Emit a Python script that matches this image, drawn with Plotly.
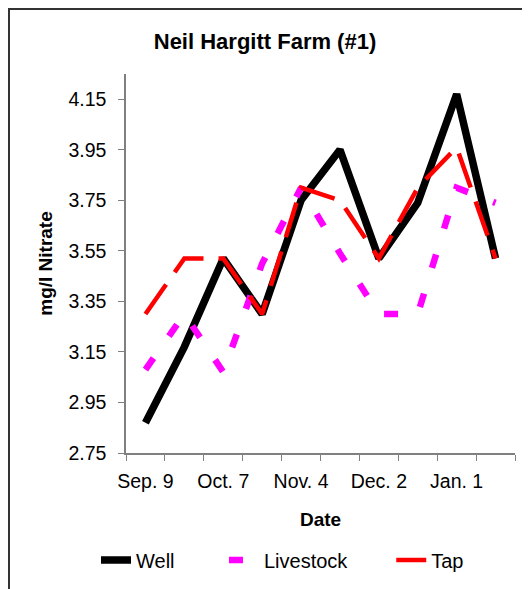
import plotly.graph_objects as go

# ---- data ----
dates = ["Sep. 9", "Sep. 23", "Oct. 7", "Oct. 21", "Nov. 4",
         "Nov. 18", "Dec. 2", "Dec. 16", "Jan. 1", "Jan. 15"]
well = [2.87, 3.17, 3.52, 3.30, 3.75, 3.95, 3.52, 3.74, 4.17, 3.52]
livestock = [3.08, 3.30, 3.07, 3.50, 3.80, 3.54, 3.30, 3.30, 3.80, 3.74]
tap = [3.30, 3.52, 3.52, 3.30, 3.80, 3.75, 3.52, 3.80, 3.96, 3.52]
y_ticks = [2.75, 2.95, 3.15, 3.35, 3.55, 3.75, 3.95, 4.15]
x_labels = [d if i % 2 == 0 else "" for i, d in enumerate(dates)]
series_names = ["Well", "Livestock", "Tap"]

FONT = "Arial, 'Liberation Sans', sans-serif"
# the page body adds an 8px offset, so the figure is 8px smaller
W, H = 522, 581
L, R, T, B = 118, 15, 66, 136
pw, ph = W - L - R, H - T - B
NB = "\u00a0"

fig = go.Figure()
fig.add_trace(go.Scatter(x=dates, y=well, name=series_names[0] + NB * 8, mode="lines",
                         line=dict(color="black", width=7.5)))
fig.add_trace(go.Scatter(x=dates, y=livestock, name=series_names[1] + NB * 7, mode="lines",
                         line=dict(color="#FF00FF", width=6.5, dash="14px,27px")))
fig.add_trace(go.Scatter(x=dates, y=tap, name=series_names[2], mode="lines",
                         line=dict(color="#FF0000", width=4.5, dash="36px,15px")))

def px_x(p):
    return (p - L) / pw

def px_y(p):
    return (H - B - p) / ph

fig.update_layout(
    width=W, height=H,
    margin=dict(l=L, r=R, t=T, b=B),
    paper_bgcolor="white", plot_bgcolor="white",
    font=dict(family=FONT, color="black"),
    title=dict(text="<b>Neil Hargitt Farm (#1)</b>", font=dict(size=22, family=FONT),
               x=(265 - 8) / W, xref="container", xanchor="center",
               y=1 - 33 / H, yref="container", yanchor="middle"),
    xaxis=dict(type="category", categoryorder="array", categoryarray=dates,
               range=[-0.5, len(dates) - 0.5],
               tickmode="array", tickvals=dates, ticktext=x_labels,
               tickson="boundaries", ticks="outside", ticklen=6, tickcolor="#808080",
               showline=True, linecolor="#808080", linewidth=1.5, showgrid=False,
               zeroline=False, tickangle=0,
               tickfont=dict(size=19.5, family=FONT), ticklabelstandoff=10,
               title=dict(text="<b>Date</b>", font=dict(size=19, family=FONT), standoff=22)),
    yaxis=dict(range=[2.75, 4.25], tickmode="array", tickvals=y_ticks,
               ticktext=[f"{v:.2f}" for v in y_ticks],
               ticks="outside", ticklen=6, tickcolor="#808080",
               showline=True, linecolor="#808080", linewidth=1.5, showgrid=False,
               zeroline=False,
               tickfont=dict(size=19.5, family=FONT), ticklabelstandoff=8,
               title=dict(text="<b>mg/l Nitrate</b>", font=dict(size=19, family=FONT), standoff=11)),
    legend=dict(orientation="h", xref="container", x=88 / W, xanchor="left",
                yref="container", y=1 - 552 / H, yanchor="middle",
                font=dict(size=20, family=FONT), bgcolor="rgba(0,0,0,0)"),
    showlegend=True,
    shapes=[dict(type="rect", xref="paper", yref="paper",
                 x0=px_x(1), x1=px_x(W + 40), y0=px_y(H + 40), y1=px_y(1),
                 line=dict(color="#333333", width=2), fillcolor="rgba(0,0,0,0)",
                 layer="below")],
)

fig.write_html("out.html")
